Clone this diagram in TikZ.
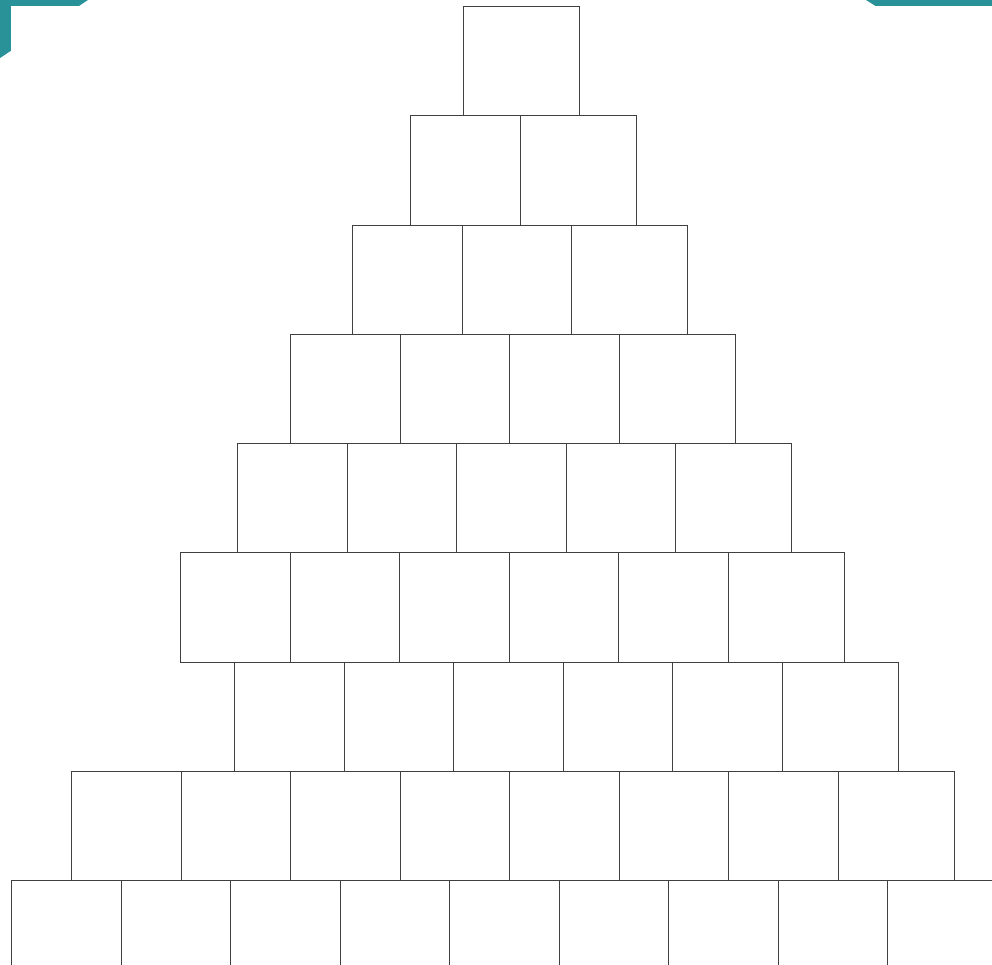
\documentclass[tikz,border=0pt]{standalone}
\usepackage{tikz}
\usetikzlibrary{positioning}
\definecolor{tealband}{RGB}{40,146,152}

\begin{document}
\begin{tikzpicture}[x=1pt, y=-1pt, line width=0.7pt,
	brick/.style={rectangle, draw=black!75, fill=none, inner sep=0pt, anchor=north west, minimum width=109.5pt, minimum height=109.3pt},
	lastbrick/.style={brick, minimum width=116pt}]

	\clip (0,0) rectangle (992,964);

	% Corner bands
	\fill[tealband] (0,0) -- (88,0) -- (0,58) -- cycle;
	\fill[tealband] (866,0) -- (992,0) -- (992,40) -- (930,40) -- cycle;
	\fill[white] (11,6) rectangle (992,964);

	% Rows: row/left x/number of bricks
	\foreach \r/\xs/\n in {1/463/1, 2/410/2, 3/352/3, 4/290/4, 5/237/5, 6/180/6, 7/234/6, 8/71/8, 9/11/9}{
		\pgfmathsetmacro{\yt}{6+109.25*(\r-1)}
		\foreach \c in {1,...,\n}{
			\pgfmathsetmacro{\xl}{\xs+109.5*(\c-1)}
			\ifnum\c=\n
				\node[lastbrick] (b-\r-\c) at (\xl,\yt) {};
			\else
				\node[brick] (b-\r-\c) at (\xl,\yt) {};
			\fi
		}
	}
\end{tikzpicture}
\end{document}
